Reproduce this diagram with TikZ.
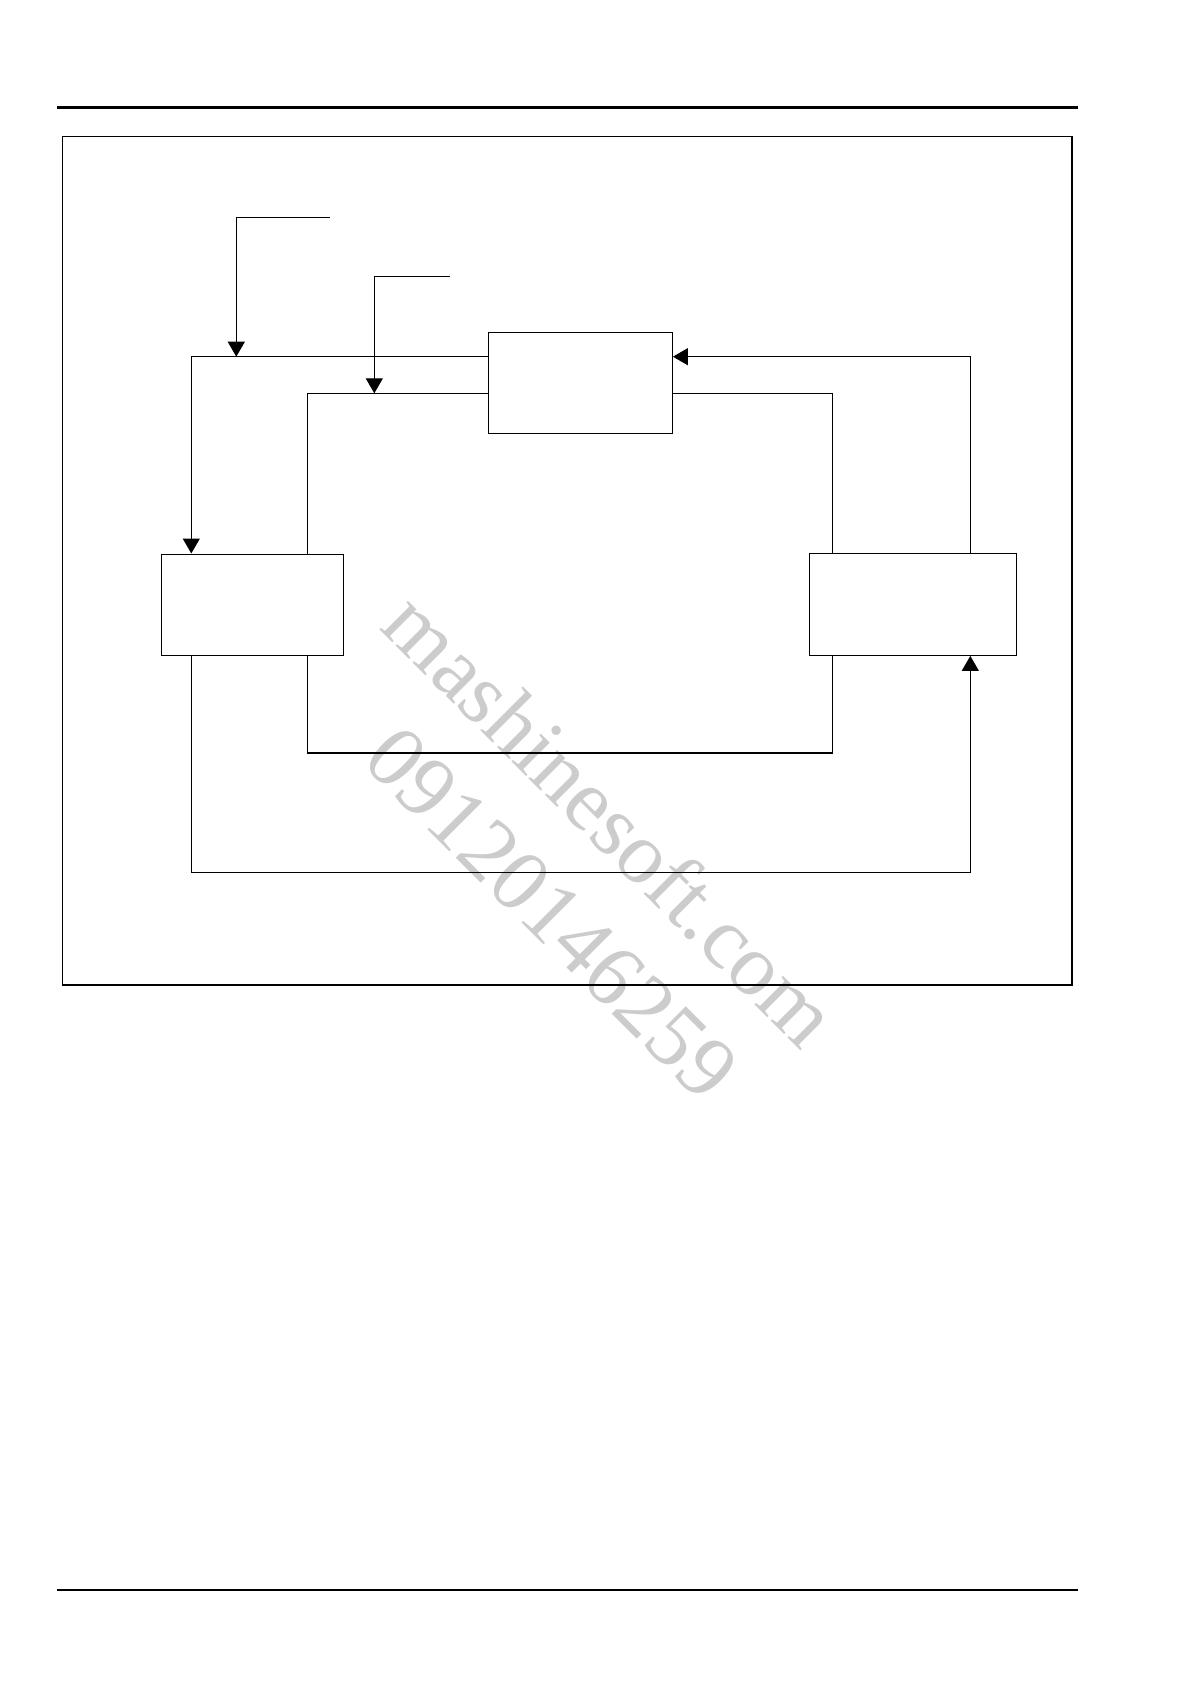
\documentclass[tikz,border=0pt]{standalone}
\usepackage{fontspec}
\newfontfamily\wmfont{Liberation Serif}
\usetikzlibrary{arrows.meta}
\begin{document}
\begin{tikzpicture}[x=0.5pt,y=-0.5pt,
  line/.style={line width=0.6pt},
  arr/.style={line width=0.6pt,-{Triangle[length=7.5pt,width=8.5pt]}},
  blockbox/.style={draw,line width=0.6pt,inner sep=0pt,rectangle},
  wm/.style={text=black!20,font=\wmfont\fontsize{44pt}{50pt}\selectfont,inner sep=0pt,rotate=-45}]
\useasboundingbox (0,0) rectangle (1190,1684);
\fill[white] (0,0) rectangle (1190,1684);
% watermark
\node[wm] (wma) at (612,819) {mashinesoft.com};
\node[wm] (wmb) at (552,913) {09120146259};
% page rules and frame
\draw[line width=1.3pt] (57,107.5) -- (1078,107.5);
\draw[line width=1pt] (57,1590) -- (1078,1590);
\draw[line width=0.9pt] (62.4,136.5) rectangle (1072,984.7);
% blocks
\node[blockbox,minimum width=92pt,minimum height=50.5pt] (mid) at (580.3,382.8) {};
\node[blockbox,minimum width=91pt,minimum height=50.6pt] (left) at (252.3,604.7) {};
\node[blockbox,minimum width=103.7pt,minimum height=51pt] (right) at (913,604.3) {};
% helper coordinates
\coordinate (oy) at (0,356.7);
\coordinate (iy) at (0,393.3);
\coordinate (ox) at (191.3,0);
\coordinate (ix) at (307.3,0);
\coordinate (ox2) at (970.3,0);
\coordinate (ix2) at (832.3,0);
\coordinate (ocorner) at (970.3,872.5);
\coordinate (icorner) at (832.3,753);
\coordinate (in1) at (330,217.3);
\coordinate (j1) at (236.3,356.7);
\coordinate (in2) at (450,276.3);
\coordinate (j2) at (374.3,393.3);
% outer loop
\draw[arr] (mid.west |- oy) -| (left.north -| ox);
\draw[arr] (left.south -| ox) |- (ocorner) -- (right.south -| ox2);
\draw[arr] (right.north -| ox2) |- (mid.east |- oy);
% inner loop
\draw[line] (mid.west |- iy) -| (left.north -| ix);
\draw[line] (left.south -| ix) |- (icorner) -- (right.south -| ix2);
\draw[line] (right.north -| ix2) |- (mid.east |- iy);
% inputs
\draw[arr] (in1) -| (j1);
\draw[arr] (in2) -| (j2);
\end{tikzpicture}
\end{document}
